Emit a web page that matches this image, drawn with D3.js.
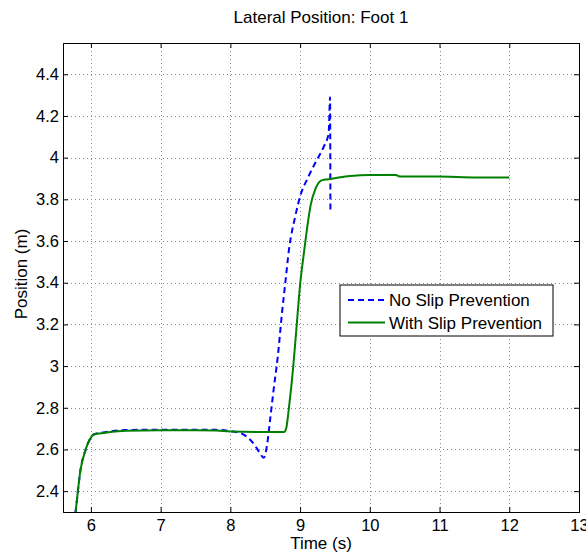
<!DOCTYPE html>
<html>
<head>
<meta charset="utf-8">
<script src="https://cdn.jsdelivr.net/npm/d3@7/dist/d3.min.js"></script>
<style>
  html, body { margin: 0; padding: 0; background: #fff; }
  svg { display: block; }
  text { font-family: "Liberation Sans", Arial, Helvetica, sans-serif; fill: #000; }
</style>
</head>
<body>
<svg id="chart" width="586" height="554"></svg>
<script>
// Foot 1 lateral position over time, two controller variants
const seriesNames = ["No Slip Prevention", "With Slip Prevention"];
const seriesColors = ["#0000ff", "#008000"];

const noSlipTime = [5.74, 5.78, 5.85, 5.925, 5.98, 6.04, 6.2, 6.5, 7.0, 7.5, 7.8, 8.0, 8.1, 8.15, 8.24, 8.34, 8.42, 8.48, 8.53, 8.575, 8.62, 8.68, 8.74, 8.79, 8.84, 8.93, 9.0, 9.12, 9.24, 9.34, 9.41, 9.43, 9.435];
const noSlipPos  = [2.20, 2.30, 2.50, 2.60, 2.645, 2.672, 2.683, 2.693, 2.695, 2.695, 2.694, 2.688, 2.682, 2.678, 2.66, 2.625, 2.585, 2.56, 2.63, 2.757, 2.885, 3.045, 3.253, 3.405, 3.557, 3.717, 3.813, 3.909, 3.989, 4.053, 4.117, 4.29, 3.75];

const withSlipTime = [5.74, 5.78, 5.85, 5.925, 5.98, 6.04, 6.2, 6.5, 7.0, 7.5, 7.8, 8.0, 8.5, 8.77, 8.80, 8.84, 8.90, 8.95, 9.00, 9.05, 9.10, 9.15, 9.22, 9.30, 9.36, 9.44, 9.58, 9.72, 10.0, 10.37, 10.44, 10.96, 11.54, 12.0];
const withSlipPos  = [2.20, 2.30, 2.50, 2.60, 2.645, 2.672, 2.68, 2.69, 2.692, 2.692, 2.691, 2.686, 2.684, 2.684, 2.70, 2.80, 2.99, 3.19, 3.39, 3.53, 3.66, 3.77, 3.85, 3.89, 3.895, 3.898, 3.906, 3.912, 3.917, 3.917, 3.909, 3.909, 3.905, 3.905];

const xTicks = [6, 7, 8, 9, 10, 11, 12, 13];
const yTicks = [2.4, 2.6, 2.8, 3, 3.2, 3.4, 3.6, 3.8, 4, 4.2, 4.4];

const titleText = "Lateral Position: Foot 1";
const xLabel = "Time (s)";
const yLabel = "Position (m)";

const W = 586, H = 554;
const m = { top: 43, right: 7, bottom: 42, left: 63 };
const iw = W - m.left - m.right, ih = H - m.top - m.bottom;

const svg = d3.select("#chart");
const g = svg.append("g").attr("transform", `translate(${m.left},${m.top})`);

const x = d3.scaleLinear().domain([5.6, 13]).range([0, iw]);
const y = d3.scaleLinear().domain([2.3, 4.55]).range([ih, 0]);

// plot background
g.append("rect").attr("width", iw).attr("height", ih).attr("fill", "#fff");

// dotted grid
const grid = g.append("g").attr("stroke", "#8a8a8a").attr("stroke-width", 1).attr("stroke-dasharray", "1,3");
grid.selectAll("line.gx").data(xTicks).join("line")
  .attr("x1", d => Math.round(x(d)) + 0.5).attr("x2", d => Math.round(x(d)) + 0.5)
  .attr("y1", 0).attr("y2", ih);
grid.selectAll("line.gy").data(yTicks).join("line")
  .attr("y1", d => Math.round(y(d)) + 0.5).attr("y2", d => Math.round(y(d)) + 0.5)
  .attr("x1", 0).attr("x2", iw);

// clip for data lines
svg.append("defs").append("clipPath").attr("id", "plotClip")
  .append("rect").attr("width", iw).attr("height", ih);

const lineGen = d3.line().x(d => x(d[0])).y(d => y(d[1])).curve(d3.curveMonotoneX);
const series = [
  d3.zip(noSlipTime, noSlipPos),
  d3.zip(withSlipTime, withSlipPos)
];

const lines = g.append("g").attr("clip-path", "url(#plotClip)");
lines.append("path").datum(series[0])
  .attr("d", lineGen).attr("fill", "none")
  .attr("stroke", seriesColors[0]).attr("stroke-width", 2)
  .attr("stroke-dasharray", "6,4");
lines.append("path").datum(series[1])
  .attr("d", lineGen).attr("fill", "none")
  .attr("stroke", seriesColors[1]).attr("stroke-width", 2);

// axes with inward ticks on all four sides
const fmt = d3.format("~g");
const axB = d3.axisBottom(x).tickValues(xTicks).tickSize(-5).tickPadding(7).tickFormat(fmt);
const axT = d3.axisTop(x).tickValues(xTicks).tickSize(-5).tickFormat("");
const axL = d3.axisLeft(y).tickValues(yTicks).tickSize(-5).tickPadding(4).tickFormat(fmt);
const axR = d3.axisRight(y).tickValues(yTicks).tickSize(-5).tickFormat("");

function styleAxis(sel) {
  sel.select(".domain").attr("stroke", "#000").attr("stroke-width", 1);
  sel.selectAll(".tick line").attr("stroke", "#000");
  sel.selectAll("text").style("font-size", "16.5px").attr("fill", "#000");
}
g.append("g").attr("transform", `translate(0,${ih})`).call(axB).call(styleAxis);
g.append("g").call(axT).call(styleAxis);
g.append("g").call(axL).call(styleAxis);
g.append("g").attr("transform", `translate(${iw},0)`).call(axR).call(styleAxis);

// title and axis labels
svg.append("text").attr("x", m.left + iw / 2).attr("y", 23)
  .attr("text-anchor", "middle").style("font-size", "17px").text(titleText);
svg.append("text").attr("x", m.left + iw / 2).attr("y", 549)
  .attr("text-anchor", "middle").style("font-size", "17px").text(xLabel);
svg.append("text").attr("transform", "translate(27,274) rotate(-90)")
  .attr("text-anchor", "middle").style("font-size", "17px").text(yLabel);

// legend
const leg = svg.append("g").attr("transform", "translate(340,285)");
leg.append("rect").attr("width", 213).attr("height", 51)
  .attr("fill", "#fff").attr("stroke", "#000").attr("stroke-width", 1);
seriesNames.forEach((name, i) => {
  const yy = 15 + i * 22.5;
  leg.append("line").attr("x1", 8).attr("x2", 45).attr("y1", yy).attr("y2", yy)
    .attr("stroke", seriesColors[i]).attr("stroke-width", 2)
    .attr("stroke-dasharray", i === 0 ? "6,4" : null);
  leg.append("text").attr("x", 49).attr("y", yy + 6)
    .style("font-size", "17px").text(name);
});
</script>
</body>
</html>
